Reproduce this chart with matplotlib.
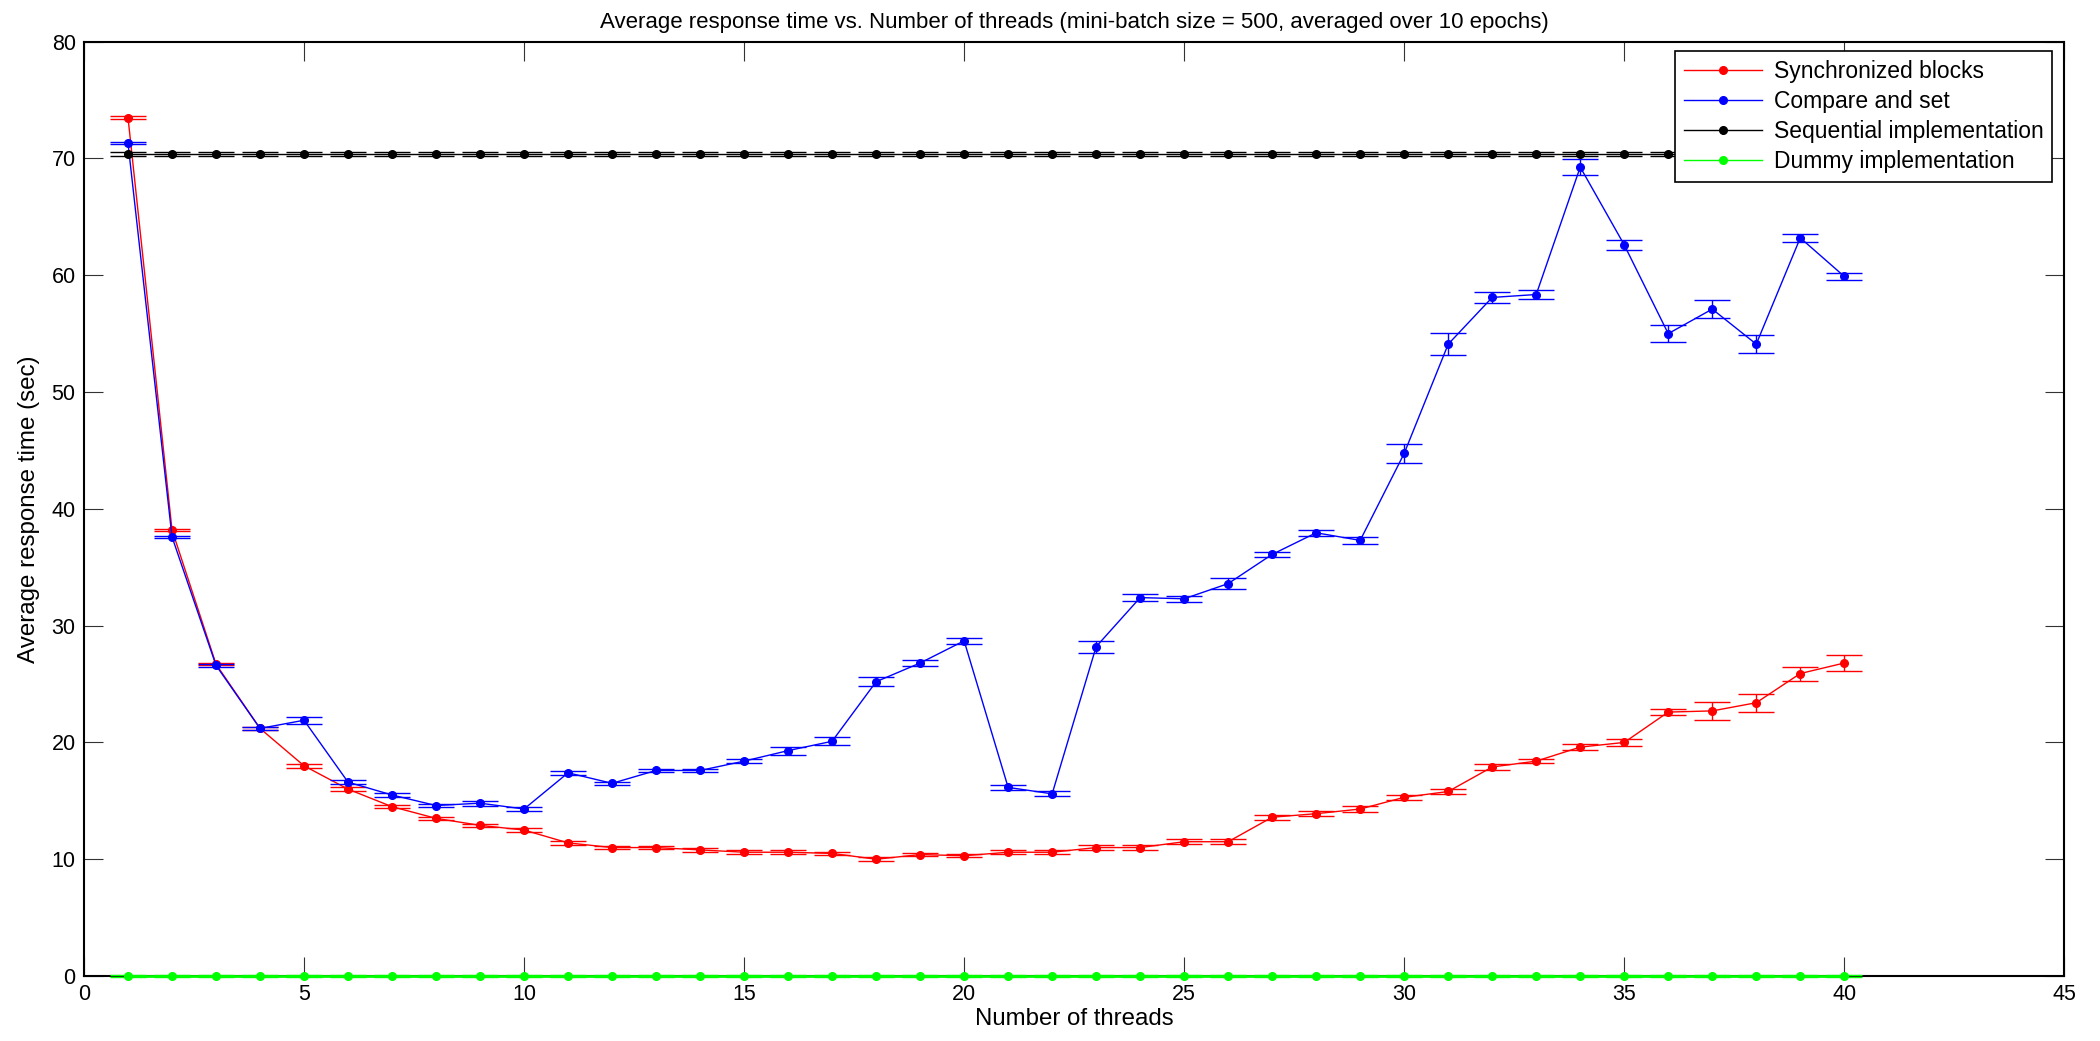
import matplotlib
matplotlib.use("Agg")
import matplotlib.pyplot as plt

plt.rcParams['font.family'] = ['Liberation Sans', 'DejaVu Sans']

threads = list(range(1, 41))

sync_mean = [73.5, 38.2, 26.7, 21.2, 18.0, 16.0, 14.5, 13.5, 12.9, 12.5,
             11.4, 11.0, 11.0, 10.8, 10.6, 10.6, 10.5, 10.0, 10.4, 10.3,
             10.6, 10.6, 11.0, 11.0, 11.5, 11.5, 13.6, 13.9, 14.3, 15.3,
             15.8, 17.9, 18.4, 19.6, 20.0, 22.6, 22.7, 23.4, 25.9, 26.8]
sync_err = [0.1, 0.1, 0.1, 0.1, 0.15, 0.15, 0.15, 0.15, 0.15, 0.15,
            0.15, 0.15, 0.15, 0.15, 0.15, 0.15, 0.15, 0.15, 0.15, 0.15,
            0.15, 0.15, 0.2, 0.2, 0.2, 0.2, 0.2, 0.2, 0.25, 0.2,
            0.2, 0.25, 0.2, 0.25, 0.3, 0.26, 0.78, 0.78, 0.6, 0.67]

cas_mean = [71.3, 37.6, 26.6, 21.2, 21.9, 16.6, 15.5, 14.6, 14.8, 14.3,
            17.4, 16.5, 17.6, 17.6, 18.4, 19.3, 20.1, 25.2, 26.8, 28.7,
            16.15, 15.6, 28.2, 32.4, 32.3, 33.6, 36.1, 37.95, 37.3, 44.75,
            54.1, 58.1, 58.35, 69.26, 62.6, 55.0, 57.1, 54.1, 63.2, 59.9]
cas_err = [0.1, 0.1, 0.1, 0.1, 0.3, 0.15, 0.15, 0.15, 0.2, 0.15,
           0.15, 0.15, 0.15, 0.15, 0.15, 0.34, 0.34, 0.4, 0.26, 0.26,
           0.2, 0.2, 0.51, 0.28, 0.26, 0.5, 0.21, 0.24, 0.33, 0.81,
           0.95, 0.5, 0.4, 0.69, 0.43, 0.75, 0.75, 0.8, 0.33, 0.28]

seq_mean = [70.4] * 40
seq_err = [0.15] * 40

dummy_mean = [0.0] * 40
dummy_err = [0.05] * 40

labels = ["Synchronized blocks", "Compare and set",
          "Sequential implementation", "Dummy implementation"]
colors = ["#ff0000", "#0000ff", "#000000", "#00ff00"]
x_ticks = [0, 5, 10, 15, 20, 25, 30, 35, 40, 45]
y_ticks = [0, 10, 20, 30, 40, 50, 60, 70, 80]

fig = plt.figure(figsize=(21, 10.41), dpi=100)
ax = fig.add_axes([0.040, 0.0624, 0.943, 0.8976])

series = [(sync_mean, sync_err), (cas_mean, cas_err),
          (seq_mean, seq_err), (dummy_mean, dummy_err)]
handles = []
for i, ((m, e), c) in enumerate(zip(series, colors)):
    cont = ax.errorbar(threads, m, yerr=e, fmt='.-', color=c, ecolor=c,
                       markersize=11, linewidth=1.0, elinewidth=1.0,
                       capsize=13.3, capthick=1.0, zorder=3 + i)
    if i == 3:
        for art in [cont[0], *cont[1], *cont[2]]:
            art.set_clip_on(False)
            art.set_zorder(10)
        cont[0].set_linewidth(2.0)
    handles.append(cont[0])

ax.set_xlim(0, 45)
ax.set_ylim(0, 80)
ax.set_xticks(x_ticks)
ax.set_yticks(y_ticks)
ax.tick_params(direction='in', length=14, width=0.8, top=True, right=True,
               labelsize=15.5, pad=6, color='#333333')
for s in ax.spines.values():
    s.set_linewidth(1.5)
    s.set_color('black')

ax.set_title("Average response time vs. Number of threads (mini-batch size = 500, averaged over 10 epochs)",
             fontsize=16, pad=10)
ax.set_xlabel("Number of threads", fontsize=17.3, labelpad=2)
ax.set_ylabel("Average response time (sec)", fontsize=17.4, labelpad=8)

leg = ax.legend(handles, labels, loc='upper right', bbox_to_anchor=(0.994, 0.990),
                borderaxespad=0, fontsize=16.5, handlelength=3.4, labelspacing=0.3,
                fancybox=False, framealpha=1, edgecolor='black', borderpad=0.4,
                handletextpad=0.5)
leg.get_frame().set_linewidth(1.2)
leg.legend_handles[3].set_linewidth(1.0)
leg.set_zorder(20)

fig.savefig("out.png", dpi=100)
